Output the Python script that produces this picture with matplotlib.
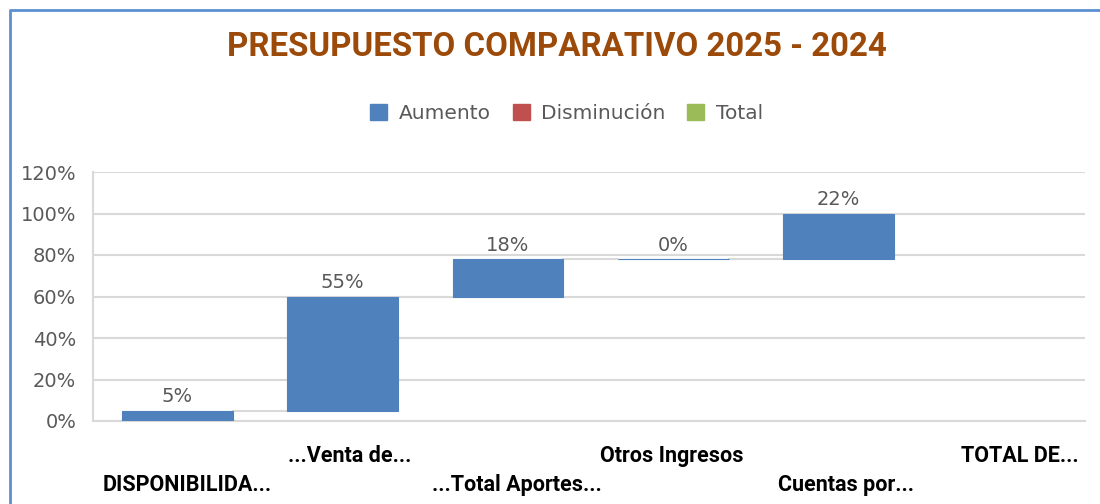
import numpy as np
import matplotlib.pyplot as plt
import matplotlib.transforms as mtransforms
from matplotlib.patches import Patch
from matplotlib.lines import Line2D

# waterfall data (fractions)
categories = ['DISPONIBILIDA...', '...Venta de...', '...Total Aportes...',
              'Otros Ingresos', 'Cuentas por...', 'TOTAL DE...']
changes = [0.05, 0.55, 0.18, 0.00, 0.22, np.nan]   # total column shows no bar
labels = ['5%', '55%', '18%', '0%', '22%', '']
yticks = [0, 0.2, 0.4, 0.6, 0.8, 1.0, 1.2]
ytick_labels = ['0%', '20%', '40%', '60%', '80%', '100%', '120%']

BLUE = '#4F81BD'
RED = '#C0504D'
GREEN = '#9BBB59'
GRID = '#D9D9D9'
TXT = '#595959'

fig = plt.figure(figsize=(11, 5.04), dpi=100)
ax = fig.add_axes([93 / 1100, 83 / 504, 992 / 1100, 249 / 504])

x = np.arange(len(categories))
vals = np.nan_to_num(np.array(changes, dtype=float))
bottoms = np.concatenate([[0], np.cumsum(vals)[:-1]])
width = 0.67

drawn = ~np.isnan(np.array(changes, dtype=float))
ax.bar(x[drawn] + 0.01, vals[drawn], bottom=bottoms[drawn], width=width,
       color=BLUE, edgecolor=BLUE, linewidth=0.8, zorder=3)

# connector lines between consecutive bars
tops = bottoms + vals
for i in range(int(drawn.sum()) - 1):
    ax.plot([x[i] + 0.01 + width / 2, x[i + 1] + 0.01 - width / 2],
            [tops[i], tops[i]], color=GRID, lw=1.5, zorder=2)

for i in range(len(x)):
    if labels[i]:
        ax.annotate(labels[i], (x[i] + 0.01, tops[i]), xytext=(0, 3),
                    textcoords='offset points', ha='center', va='bottom',
                    fontsize=14, color=TXT)

ax.set_xlim(-0.5, len(x) - 0.5)
ax.set_ylim(0, 1.2)
ax.set_yticks(yticks)
ax.set_yticklabels(ytick_labels, fontsize=14, color=TXT)
ax.yaxis.grid(True, color=GRID, lw=1.5, zorder=0)
ax.set_axisbelow(True)
ax.tick_params(axis='both', length=0)
ax.tick_params(axis='y', pad=12)

ax.set_xticks(x)
ax.set_xticklabels(categories, fontsize=15.5, fontweight='bold',
                   family='Roboto', color='black')
for i, t in enumerate(ax.xaxis.get_major_ticks()):
    t.set_pad(38 if i % 2 == 0 else 17)

# Excel centres truncated labels slightly right of the column centre
shift_px = [12, 9, 11, 0, 9, 17]
for lab, dx in zip(ax.get_xticklabels(), shift_px):
    off = mtransforms.ScaledTranslation(dx / 100, 0, fig.dpi_scale_trans)
    lab.set_transform(lab.get_transform() + off)

for s in ['top', 'right']:
    ax.spines[s].set_visible(False)
for s in ['left', 'bottom']:
    ax.spines[s].set_color(GRID)
    ax.spines[s].set_linewidth(1.5)

fig.text(0.506, 0.907, 'PRESUPUESTO COMPARATIVO 2025 - 2024', ha='center',
         va='center', fontsize=23.8, fontweight='bold', family='Roboto',
         color='#9C4A0A')

handles = [Patch(color=BLUE, label='Aumento'),
           Patch(color=RED, label='Disminución'),
           Patch(color=GREEN, label='Total')]
fig.legend(handles=handles, loc='center', bbox_to_anchor=(0.515, 0.774),
           ncol=3, frameon=False, fontsize=14.5, labelcolor=TXT,
           handlelength=0.85, handleheight=0.85, handletextpad=0.55,
           columnspacing=1.1)

# chart frame (left and top edges visible)
fig.add_artist(Line2D([10 / 1100, 10 / 1100, 1.0], [0, 494 / 504, 494 / 504],
                      transform=fig.transFigure, color='#5B8FD0', lw=2))

fig.savefig('out.png', dpi=100)
